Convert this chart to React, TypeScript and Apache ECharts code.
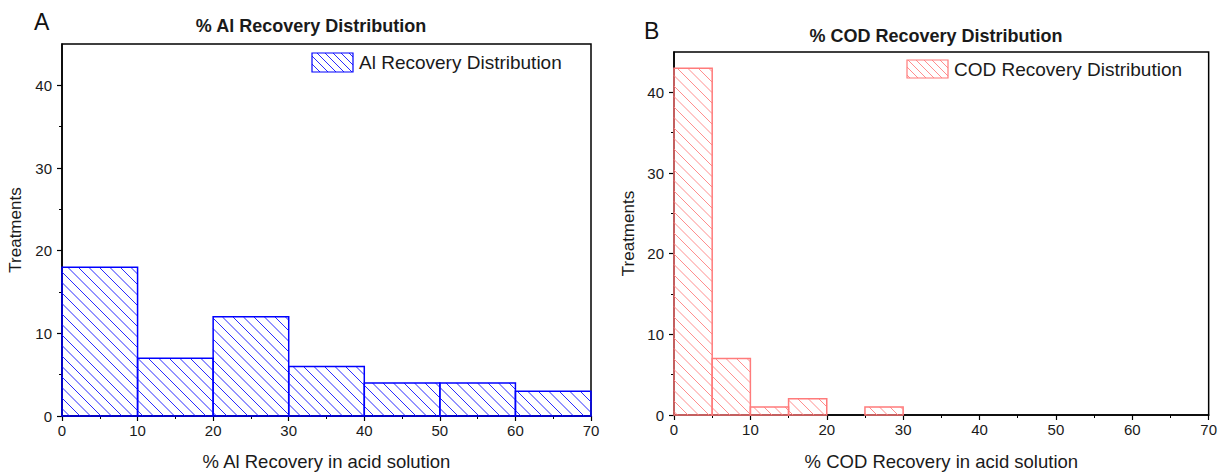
import React, { useEffect, useRef } from "react";
import * as echarts from "echarts";

// ---- data ----
const alBinStarts = [0, 10, 20, 30, 40, 50, 60];
const alBinWidth = 10;
const alCounts = [18, 7, 12, 6, 4, 4, 3];

const codBinStarts = [0, 5, 10, 15, 20, 25];
const codBinWidth = 5;
const codCounts = [43, 7, 1, 2, 0, 1];

const xTickValues = [0, 10, 20, 30, 40, 50, 60, 70];
const yMajorTicks = [0, 10, 20, 30, 40];
const yMinorTicks = [5, 15, 25, 35];

const FONT = "'Liberation Sans', Arial, sans-serif";
const BLUE = "#0000ff";
const BLUE_HATCH = "#2a2aff";
const RED = "#ff7b7b";
const RED_HATCH = "#ff8e8e";

function hatchLines(left: number, top: number, right: number, bottom: number, spacing: number, color: string) {
  const out: any[] = [];
  const cMin = Math.floor((top - right) / spacing) * spacing;
  const cMax = bottom - left;
  for (let c = cMin; c <= cMax; c += spacing) {
    const xs = Math.max(left, top - c);
    const xe = Math.min(right, bottom - c);
    if (xe - xs > 0.5) {
      out.push({
        type: "line",
        silent: true,
        shape: { x1: xs, y1: xs + c, x2: xe, y2: xe + c },
        style: { stroke: color, lineWidth: 1 },
      });
    }
  }
  return out;
}

function makeRenderItem(stroke: string, hatch: string, spacing: number) {
  return (params: any, api: any) => {
    const x0 = api.value(0) as number;
    const x1 = api.value(1) as number;
    const c = api.value(2) as number;
    if (!c) return null;
    const tl = api.coord([x0, c]);
    const br = api.coord([x1, 0]);
    const left = tl[0], top = tl[1], right = br[0], bottom = br[1];
    const children = hatchLines(left, top, right, bottom, spacing, hatch);
    children.push({
      type: "rect",
      shape: { x: left, y: top, width: right - left, height: bottom - top },
      style: { fill: "none", stroke, lineWidth: 1.5 },
    });
    return { type: "group", children };
  };
}

function xAxisCfg(gridIndex: number, name: string, nameGap: number) {
  return {
    type: "value",
    gridIndex,
    min: 0,
    max: 70,
    interval: 10,
    name,
    nameLocation: "middle",
    nameGap,
    nameTextStyle: { fontFamily: FONT, fontSize: 18.5, color: "#1a1a1a" },
    axisLine: { show: true, onZero: false, lineStyle: { color: "#000", width: 1.5 } },
    axisTick: { show: true, length: 5, lineStyle: { color: "#000", width: 1.2 }, customValues: xTickValues },
    minorTick: { show: true, splitNumber: 2, length: 3, lineStyle: { color: "#000", width: 1 } },
    axisLabel: { fontFamily: FONT, fontSize: 15, color: "#1a1a1a", margin: 7, customValues: xTickValues },
    splitLine: { show: false },
    minorSplitLine: { show: false },
  };
}

function yMajorCfg(gridIndex: number, nameGap: number) {
  return {
    type: "value",
    gridIndex,
    min: 0,
    max: 45,
    name: "Treatments",
    nameLocation: "middle",
    nameGap,
    nameTextStyle: { fontFamily: FONT, fontSize: 17, color: "#1a1a1a" },
    axisLine: { show: true, onZero: false, lineStyle: { color: "#000", width: 1.5 } },
    axisTick: { show: true, length: 5, lineStyle: { color: "#000", width: 1.2 }, customValues: yMajorTicks },
    axisLabel: { fontFamily: FONT, fontSize: 15, color: "#1a1a1a", margin: 10, customValues: yMajorTicks },
    splitLine: { show: false },
  };
}

function yMinorCfg(gridIndex: number) {
  return {
    type: "value",
    gridIndex,
    min: 0,
    max: 45,
    position: "left",
    axisLine: { show: false },
    axisTick: { show: true, length: 3, lineStyle: { color: "#000", width: 1 }, customValues: yMinorTicks },
    axisLabel: { show: false },
    splitLine: { show: false },
  };
}

function legendGraphic(x: number, y: number, w: number, h: number, stroke: string, hatch: string, label: string) {
  return [
    ...hatchLines(x, y, x + w, y + h, 8, hatch),
    {
      type: "rect",
      silent: true,
      shape: { x, y, width: w, height: h },
      style: { fill: "none", stroke, lineWidth: 1.2 },
    },
    {
      type: "text",
      silent: true,
      x: x + w + 6,
      y: y + h / 2,
      style: {
        text: label,
        fontFamily: FONT,
        fontSize: 19,
        fill: "#1a1a1a",
        textVerticalAlign: "middle",
        verticalAlign: "middle",
      },
    },
  ];
}

export default function App() {
  const ref = useRef<HTMLDivElement>(null);

  useEffect(() => {
    if (!ref.current) return;
    const chart = echarts.init(ref.current, undefined, { renderer: "svg" });
    const option: any = {
      animation: false,
      backgroundColor: "#ffffff",
      title: [
        {
          text: "% Al Recovery Distribution",
          left: 311,
          top: 17,
          textAlign: "center",
          padding: 0,
          textStyle: { fontFamily: FONT, fontSize: 18, fontWeight: "bold", color: "#1a1a1a" },
        },
        {
          text: "% COD Recovery Distribution",
          left: 936,
          top: 27,
          textAlign: "center",
          padding: 0,
          textStyle: { fontFamily: FONT, fontSize: 18, fontWeight: "bold", color: "#1a1a1a" },
        },
      ],
      grid: [
        { left: 62, top: 44, width: 529, bottom: 52, show: true, borderColor: "#000", borderWidth: 1.5, containLabel: false },
        { left: 674, top: 52, width: 535, bottom: 56, show: true, borderColor: "#000", borderWidth: 1.5, containLabel: false },
      ],
      xAxis: [
        xAxisCfg(0, "% Al Recovery in acid solution", 36),
        xAxisCfg(1, "% COD Recovery in acid solution", 37),
      ],
      yAxis: [yMajorCfg(0, 38), yMinorCfg(0), yMajorCfg(1, 37), yMinorCfg(1)],
      series: [
        {
          type: "custom",
          name: "Al Recovery Distribution",
          xAxisIndex: 0,
          yAxisIndex: 0,
          encode: { x: [0, 1], y: 2 },
          data: alBinStarts.map((s, i) => [s, s + alBinWidth, alCounts[i]]),
          renderItem: makeRenderItem(BLUE, BLUE_HATCH, 10.5),
        },
        {
          type: "custom",
          name: "COD Recovery Distribution",
          xAxisIndex: 1,
          yAxisIndex: 2,
          encode: { x: [0, 1], y: 2 },
          data: codBinStarts.map((s, i) => [s, s + codBinWidth, codCounts[i]]),
          renderItem: makeRenderItem(RED, RED_HATCH, 10.5),
        },
      ],
      graphic: [
        {
          type: "text",
          x: 34,
          y: 10,
          style: { text: "A", fontFamily: FONT, fontSize: 23, fill: "#111" },
        },
        {
          type: "text",
          x: 644,
          y: 19,
          style: { text: "B", fontFamily: FONT, fontSize: 23, fill: "#111" },
        },
        ...legendGraphic(312, 53, 41, 19, BLUE, BLUE_HATCH, "Al Recovery Distribution"),
        ...legendGraphic(907, 60, 41, 18, RED, RED_HATCH, "COD Recovery Distribution"),
      ],
    };
    chart.setOption(option);
    return () => chart.dispose();
  }, []);

  return (
    <div
      ref={ref}
      style={{ position: "fixed", left: 0, top: 0, width: 1220, height: 476, background: "#fff" }}
    />
  );
}
